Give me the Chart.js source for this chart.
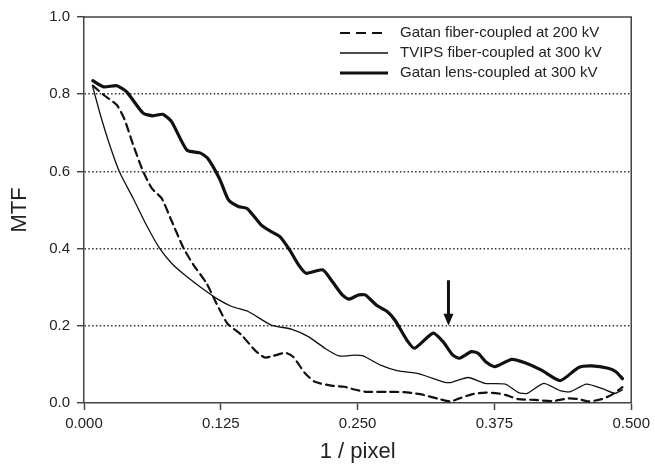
<!DOCTYPE html>
<html>
<head>
<meta charset="utf-8">
<script src="https://cdn.jsdelivr.net/npm/chart.js@4"></script>
<style>
  html, body { margin: 0; padding: 0; background: #fff; }
  canvas { display: block; }
</style>
</head>
<body>
<canvas id="mtfChart" width="655" height="473"></canvas>
<script>
    // values (x in 1/pixel, y = MTF)
    const fiberX = [0.008, 0.019, 0.030, 0.037, 0.045, 0.054, 0.062, 0.071, 0.080, 0.091, 0.100, 0.112, 0.121, 0.131,
        0.144, 0.156, 0.165, 0.173, 0.184, 0.191, 0.202, 0.211, 0.226, 0.238, 0.247, 0.258, 0.277, 0.292, 0.307,
        0.325, 0.335, 0.343, 0.355, 0.367, 0.378, 0.385, 0.397, 0.412, 0.428, 0.443, 0.452, 0.461, 0.473, 0.482, 0.492];
    const fiberY = [0.822, 0.796, 0.772, 0.735, 0.668, 0.600, 0.556, 0.530, 0.472, 0.401, 0.358, 0.310, 0.258, 0.206,
        0.176, 0.137, 0.118, 0.122, 0.130, 0.120, 0.077, 0.055, 0.045, 0.042, 0.035, 0.029, 0.029, 0.028, 0.023,
        0.010, 0.004, 0.012, 0.023, 0.027, 0.025, 0.021, 0.010, 0.008, 0.005, 0.012, 0.010, 0.004, 0.010, 0.021, 0.041];

    const tvipsX = [0.008, 0.015, 0.024, 0.033, 0.045, 0.057, 0.069, 0.080, 0.091, 0.106, 0.121, 0.135, 0.150, 0.171,
        0.190, 0.205, 0.220, 0.233, 0.247, 0.255, 0.271, 0.286, 0.307, 0.328, 0.335, 0.351, 0.366, 0.385, 0.397,
        0.405, 0.420, 0.435, 0.444, 0.459, 0.473, 0.485, 0.492];
    const tvipsY = [0.819, 0.746, 0.664, 0.595, 0.530, 0.461, 0.401, 0.362, 0.334, 0.301, 0.271, 0.250, 0.237, 0.202,
        0.191, 0.172, 0.142, 0.122, 0.124, 0.122, 0.098, 0.084, 0.075, 0.055, 0.053, 0.066, 0.051, 0.049, 0.027,
        0.025, 0.051, 0.032, 0.029, 0.049, 0.038, 0.025, 0.034];

    const lensX = [0.008, 0.018, 0.030, 0.039, 0.054, 0.063, 0.072, 0.080, 0.094, 0.106, 0.113, 0.124, 0.132, 0.141,
        0.149, 0.162, 0.171, 0.179, 0.188, 0.196, 0.203, 0.218, 0.227, 0.236, 0.242, 0.251, 0.257, 0.267, 0.277,
        0.284, 0.295, 0.302, 0.319, 0.328, 0.337, 0.343, 0.354, 0.360, 0.367, 0.375, 0.379, 0.391, 0.403, 0.418,
        0.435, 0.452, 0.464, 0.479, 0.486, 0.492];
    const lensY = [0.835, 0.819, 0.822, 0.806, 0.751, 0.744, 0.748, 0.729, 0.655, 0.648, 0.634, 0.580, 0.526, 0.509,
        0.504, 0.461, 0.444, 0.431, 0.396, 0.358, 0.336, 0.345, 0.314, 0.280, 0.269, 0.280, 0.280, 0.254, 0.237,
        0.215, 0.163, 0.142, 0.181, 0.159, 0.124, 0.116, 0.133, 0.129, 0.107, 0.094, 0.098, 0.113, 0.104, 0.085,
        0.058, 0.092, 0.096, 0.090, 0.081, 0.063];

    const seriesLabels = ['Gatan fiber-coupled at 200 kV', 'TVIPS fiber-coupled at 300 kV', 'Gatan lens-coupled at 300 kV'];
    const xTicks = [0, 0.125, 0.25, 0.375, 0.5];
    const yTicks = [0, 0.2, 0.4, 0.6, 0.8, 1.0];

    // arrow marking 1/3 pixel^-1: [x, tail y, tip y]
    const arrowAt = [0.333, 0.318, 0.2];

    const FONT = '"Liberation Sans", Arial, sans-serif';
    const INK = '#111';

    const toPoints = (xs, ys) => xs.map((x, i) => ({ x, y: ys[i] }));

    const overlayPlugin = {
        id: 'overlay',
        afterDraw(chart) {
            const { ctx, chartArea: a, scales } = chart;
            ctx.save();

            // top and right frame
            ctx.strokeStyle = '#444';
            ctx.lineWidth = 1.5;
            ctx.beginPath();
            ctx.moveTo(a.left, a.top);
            ctx.lineTo(a.right, a.top);
            ctx.lineTo(a.right, a.bottom);
            ctx.stroke();

            // arrow
            const ax = scales.x.getPixelForValue(arrowAt[0]);
            const y1 = scales.y.getPixelForValue(arrowAt[1]);
            const y2 = scales.y.getPixelForValue(arrowAt[2]);
            ctx.strokeStyle = INK;
            ctx.fillStyle = INK;
            ctx.lineWidth = 3;
            ctx.beginPath();
            ctx.moveTo(ax, y1);
            ctx.lineTo(ax, y2 - 10);
            ctx.stroke();
            ctx.beginPath();
            ctx.moveTo(ax - 5, y2 - 12);
            ctx.lineTo(ax + 5, y2 - 12);
            ctx.lineTo(ax, y2);
            ctx.closePath();
            ctx.fill();

            // legend inside the plot, top right
            ctx.font = '15px ' + FONT;
            ctx.textBaseline = 'middle';
            ctx.textAlign = 'left';
            chart.data.datasets.forEach((ds, i) => {
                const y = a.top + 16 + i * 20;
                ctx.strokeStyle = ds.borderColor;
                ctx.lineWidth = ds.borderWidth;
                ctx.setLineDash(ds.borderDash ? [10, 6] : []);
                ctx.beginPath();
                ctx.moveTo(a.left + 256, y);
                ctx.lineTo(a.left + 304, y);
                ctx.stroke();
                ctx.setLineDash([]);
                ctx.fillStyle = '#222';
                ctx.fillText(ds.label, a.left + 316, y);
            });
            ctx.restore();
        }
    };

    new Chart(document.getElementById('mtfChart'), {
        type: 'line',
        data: {
            datasets: [
                {
                    label: seriesLabels[0],
                    data: toPoints(fiberX, fiberY),
                    borderColor: INK,
                    borderWidth: 2.2,
                    borderDash: [8, 5]
                },
                {
                    label: seriesLabels[1],
                    data: toPoints(tvipsX, tvipsY),
                    borderColor: INK,
                    borderWidth: 1.3
                },
                {
                    label: seriesLabels[2],
                    data: toPoints(lensX, lensY),
                    borderColor: INK,
                    borderWidth: 3.2
                }
            ]
        },
        options: {
            responsive: false,
            animation: false,
            layout: { padding: { top: 17, right: 19, left: 0, bottom: 0 } },
            elements: {
                point: { radius: 0 },
                line: { tension: 0.2, fill: false, borderCapStyle: 'round', borderJoinStyle: 'round' }
            },
            plugins: {
                legend: { display: false },
                tooltip: { enabled: false }
            },
            scales: {
                x: {
                    type: 'linear',
                    min: 0,
                    max: 0.5,
                    afterBuildTicks: s => { s.ticks = xTicks.map(v => ({ value: v })); },
                    afterFit: s => { s.height = 70; },
                    grid: { drawOnChartArea: false, drawTicks: true, tickLength: 7, tickColor: '#444', tickWidth: 1.5 },
                    border: { color: '#444', width: 1.5 },
                    ticks: {
                        padding: 5,
                        color: '#222',
                        font: { family: FONT, size: 15 },
                        maxRotation: 0,
                        callback: v => v.toFixed(3)
                    },
                    title: {
                        display: true,
                        text: '1 / pixel',
                        color: '#222',
                        font: { family: FONT, size: 22 },
                        padding: { top: 0, bottom: 8 }
                    }
                },
                y: {
                    min: 0,
                    max: 1,
                    afterBuildTicks: s => { s.ticks = yTicks.map(v => ({ value: v })); },
                    afterFit: s => { s.width = 84; },
                    grid: {
                        color: c => (c.tick && c.tick.value > 0.01 && c.tick.value < 0.99) ? '#333' : 'rgba(0,0,0,0)',
                        lineWidth: 1.4,
                        drawTicks: true,
                        tickLength: 7,
                        tickColor: '#444',
                        tickWidth: 1.5
                    },
                    border: { color: '#444', width: 1.5, dash: [1.5, 2.3] },
                    ticks: {
                        padding: 7,
                        color: '#222',
                        font: { family: FONT, size: 15 },
                        callback: v => v.toFixed(1)
                    },
                    title: {
                        display: true,
                        text: 'MTF',
                        color: '#222',
                        font: { family: FONT, size: 22 },
                        padding: { top: 7, bottom: 0 }
                    }
                }
            }
        },
        plugins: [overlayPlugin]
    });
</script>
</body>
</html>
